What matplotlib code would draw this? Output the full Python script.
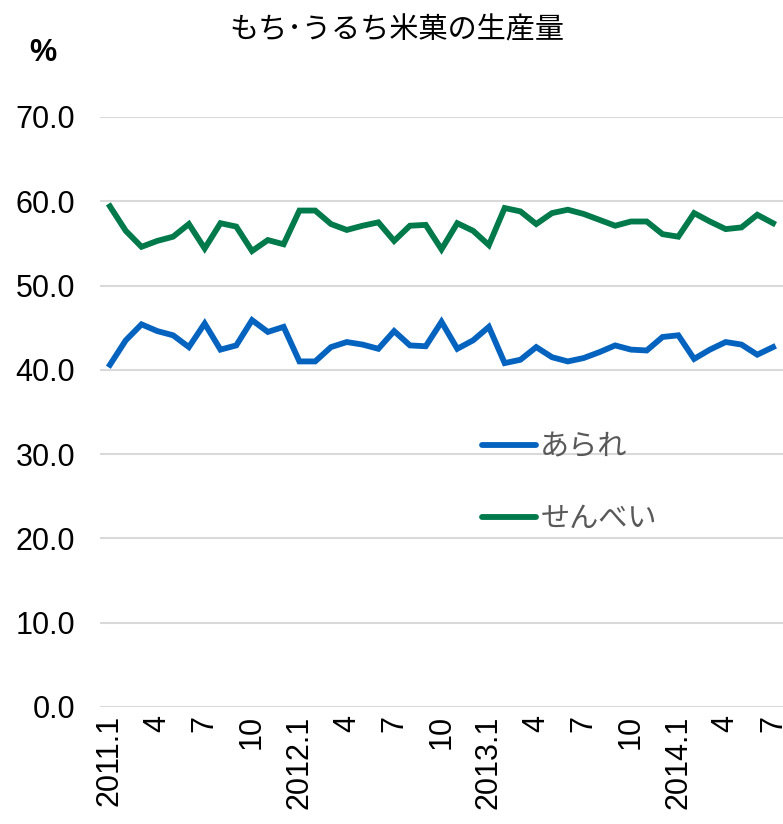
import matplotlib
matplotlib.use("Agg")
import matplotlib.pyplot as plt

plt.rcParams['font.family'] = ['Liberation Sans', 'Noto Sans CJK JP', 'DejaVu Sans']

# Monthly share of production (%), 2011.1 - 2014.7
months = ["2011.1", "2", "3", "4", "5", "6", "7", "8", "9", "10", "11", "12",
          "2012.1", "2", "3", "4", "5", "6", "7", "8", "9", "10", "11", "12",
          "2013.1", "2", "3", "4", "5", "6", "7", "8", "9", "10", "11", "12",
          "2014.1", "2", "3", "4", "5", "6", "7"]

arare = [40.6, 43.5, 45.4, 44.6, 44.1, 42.7, 45.5, 42.4, 42.9, 45.9, 44.5, 45.1,
         41.0, 41.0, 42.7, 43.3, 43.0, 42.5, 44.6, 42.9, 42.8, 45.7, 42.5, 43.5,
         45.1, 40.8, 41.2, 42.7, 41.5, 41.0, 41.4, 42.1, 42.9, 42.4, 42.3, 43.9,
         44.1, 41.3, 42.4, 43.3, 43.0, 41.8, 42.7]

senbei = [59.4, 56.5, 54.6, 55.3, 55.8, 57.3, 54.4, 57.4, 57.0, 54.1, 55.4, 54.9,
          58.9, 58.9, 57.3, 56.6, 57.1, 57.5, 55.3, 57.1, 57.2, 54.3, 57.4, 56.5,
          54.8, 59.2, 58.8, 57.3, 58.6, 59.0, 58.5, 57.8, 57.1, 57.6, 57.6, 56.1,
          55.8, 58.6, 57.6, 56.7, 56.9, 58.4, 57.4]

series_names = ["あられ", "せんべい"]
colors = ["#0563C0", "#00794B"]

fig = plt.figure(figsize=(7.83, 8.24), dpi=100)
ax = fig.add_axes([100 / 783, (824 - 707) / 824, 683 / 783, 590 / 824])

x = list(range(len(months)))
ax.plot(x, arare, color=colors[0], lw=4.2, solid_joinstyle='miter', label=series_names[0])
ax.plot(x, senbei, color=colors[1], lw=4.2, solid_joinstyle='miter', label=series_names[1])

ax.set_xlim(-0.63, len(months) - 1 + 0.63)
ax.set_ylim(0, 70)
ax.set_yticks(range(0, 71, 10))
ax.set_yticklabels([f"{v:.1f}" for v in range(0, 71, 10)])
ax.yaxis.grid(True, color="#D9D9D9", lw=1.5)
ax.set_axisbelow(True)

tick_pos = x[::3]
ax.set_xticks(tick_pos)
ax.set_xticklabels([months[i] for i in tick_pos], rotation=90)

for s in ax.spines.values():
    s.set_visible(False)
ax.tick_params(axis='both', length=0, labelsize=22, colors='black')
ax.tick_params(axis='y', pad=18)
ax.tick_params(axis='x', pad=6)

fig.text(397 / 783, 1 - 30 / 824, "もち･うるち米菓の生産量", ha='center', va='center',
         fontsize=21, family=['Noto Sans CJK JP'])
fig.text(43 / 783, 1 - 53 / 824, "%", ha='center', va='center',
         fontsize=22, fontweight='bold')

leg = fig.legend(loc='upper left', bbox_to_anchor=(482 / 783, 1 - 432 / 824),
                 frameon=False, handlelength=1.85, handletextpad=0.15,
                 labelspacing=1.45, borderpad=0, borderaxespad=0,
                 prop={'family': ['Noto Sans CJK JP'], 'size': 21})
for t in leg.get_texts():
    t.set_color("#595959")
for h in leg.get_lines():
    h.set_linewidth(4.2)
    h.set_solid_capstyle('round')

fig.savefig("out.png", dpi=100)
